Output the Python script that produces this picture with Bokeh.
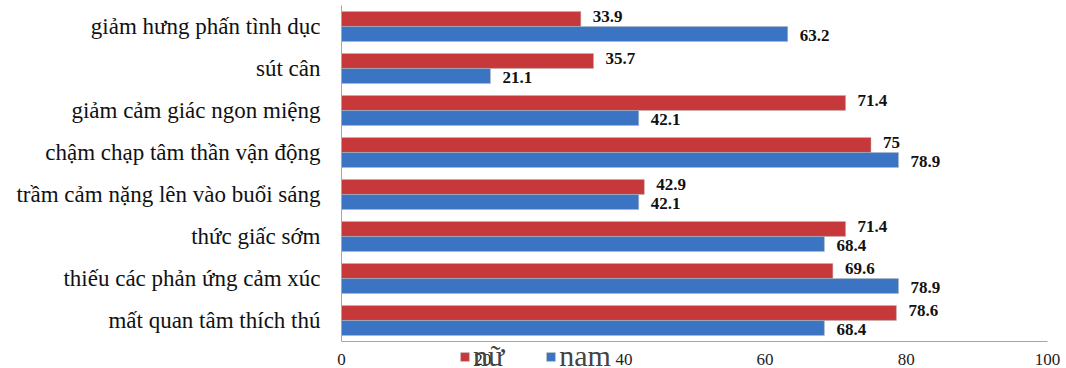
from bokeh.plotting import figure
from bokeh.models import ColumnDataSource, Legend, LegendItem, FixedTicker, Range1d
from bokeh.core.properties import value
from bokeh.embed import file_html
from bokeh.resources import INLINE

categories = [
    "giảm hưng phấn tình dục",
    "sút cân",
    "giảm cảm giác ngon miệng",
    "chậm chạp tâm thần vận động",
    "trầm cảm nặng lên vào buổi sáng",
    "thức giấc sớm",
    "thiếu các phản ứng cảm xúc",
    "mất quan tâm thích thú",
]
nu = [33.9, 35.7, 71.4, 75, 42.9, 71.4, 69.6, 78.6]
nam = [63.2, 21.1, 42.1, 78.9, 42.1, 68.4, 78.9, 68.4]
nu_labels = ["33.9", "35.7", "71.4", "75", "42.9", "71.4", "69.6", "78.6"]
nam_labels = ["63.2", "21.1", "42.1", "78.9", "42.1", "68.4", "78.9", "68.4"]
x_ticks = [0, 20, 40, 60, 80, 100]
series_names = ["nữ", "nam"]

RED = "#C7383B"
BLUE = "#3B74C2"

W, H = 1066, 368
n = len(categories)
ypos = [n - 1 - i for i in range(n)]          # first category at the top
off = 0.18
bh = 0.357
src = ColumnDataSource(dict(
    cat=categories, y=ypos,
    y_nu=[y + off for y in ypos], y_nam=[y - off for y in ypos],
    nu=nu, nam=nam, nu_lbl=nu_labels, nam_lbl=nam_labels,
))

# scale: value 0 at x=341 px, 100 at x=1047 px; 42 px per category band
px_per_unit = (1047 - 341) / 100.0
x0_px = 341
band_px = 42.0
top_px = 5
p = figure(
    width=W, height=H,
    x_range=Range1d(-x0_px / px_per_unit, (W - x0_px) / px_per_unit),
    y_range=Range1d(n - 0.5 - (H - top_px) / band_px, n - 0.5 + top_px / band_px),
    output_backend="svg", toolbar_location=None,
    min_border_left=0, min_border_right=0, min_border_top=0, min_border_bottom=0,
)
p.outline_line_color = None
p.xgrid.grid_line_color = None
p.ygrid.grid_line_color = None
p.background_fill_color = "white"
p.border_fill_color = "white"

r_nu = p.hbar(y="y_nu", right="nu", left=0, height=bh, source=src,
              fill_color=RED, line_color="#B8B8B8", line_width=0.5)
r_nam = p.hbar(y="y_nam", right="nam", left=0, height=bh, source=src,
               fill_color=BLUE, line_color="#B8B8B8", line_width=0.5)

p.text(x="nu", y="y_nu", text="nu_lbl", source=src,
       x_offset=12, y_offset=-2, text_baseline="middle", text_align="left",
       text_font=value("serif"), text_font_style="bold", text_font_size="17px", text_color="#111111")
p.text(x="nam", y="y_nam", text="nam_lbl", source=src,
       x_offset=12, y_offset=1, text_baseline="middle", text_align="left",
       text_font=value("serif"), text_font_style="bold", text_font_size="17px", text_color="#111111")

# y axis (category names), pinned at x = 0
p.yaxis.fixed_location = 0
p.yaxis.ticker = FixedTicker(ticks=ypos)
p.yaxis.major_label_overrides = {y: c for y, c in zip(ypos, categories)}
p.yaxis.bounds = (-0.5, n - 0.5)
p.yaxis.axis_line_color = "#A6A6A6"
p.yaxis.major_tick_line_color = None
p.yaxis.minor_tick_line_color = None
p.yaxis.major_tick_out = 0
p.yaxis.major_tick_in = 0
p.yaxis.major_label_standoff = 21
p.yaxis.major_label_text_font = "serif"
p.yaxis.major_label_text_font_size = "23px"
p.yaxis.major_label_text_color = "#111111"

# x axis pinned at the bottom of the category block
p.xaxis.fixed_location = -0.5
p.xaxis.ticker = FixedTicker(ticks=x_ticks)
p.xaxis.bounds = (0, 100)
p.xaxis.axis_line_color = "#A6A6A6"
p.xaxis.major_tick_line_color = None
p.xaxis.minor_tick_line_color = None
p.xaxis.major_tick_out = 0
p.xaxis.major_tick_in = 0
p.xaxis.major_label_standoff = 12
p.xaxis.major_label_text_font = "serif"
p.xaxis.major_label_text_font_size = "17px"
p.xaxis.major_label_text_color = "#222222"

legend = Legend(
    items=[LegendItem(label=series_names[0], renderers=[r_nu]),
           LegendItem(label=series_names[1], renderers=[r_nam])],
    orientation="horizontal", location=(459, -5),
    padding=0, margin=0, spacing=41, label_standoff=3,
    glyph_width=11, glyph_height=11,
    label_text_font="serif", label_text_font_size="30px",
    border_line_color=None, background_fill_alpha=0,
)
p.add_layout(legend, "center")

open("out.html", "w").write(file_html(p, INLINE))
